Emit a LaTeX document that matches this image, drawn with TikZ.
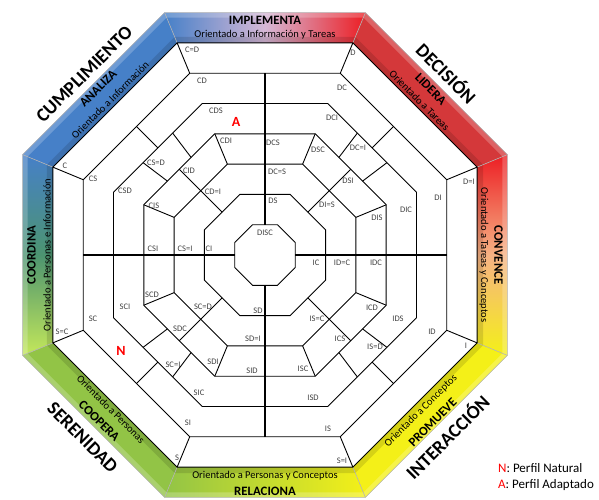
\documentclass[tikz,border=0pt]{standalone}
\usepackage{fontspec}
\setmainfont{Carlito}
\usetikzlibrary{calc}

\definecolor{discblue}{RGB}{70,128,200}
\definecolor{discred}{RGB}{212,56,58}
\definecolor{discbrightred}{RGB}{236,30,36}
\definecolor{discyellow}{RGB}{244,240,24}
\definecolor{discgreen}{RGB}{146,196,70}
\definecolor{disclime}{RGB}{196,232,90}
\definecolor{discteal}{RGB}{76,148,112}
\definecolor{disclilac}{RGB}{214,184,214}
\definecolor{discpeach}{RGB}{246,178,132}
\definecolor{taggray}{RGB}{64,64,64}

\begin{document}
\begin{tikzpicture}[x=1pt, y=1pt,
    ringline/.style={black, line width=0.9pt},
    mainaxis/.style={black, line width=1.9pt},
    bandedge/.style={black!30, line width=0.6pt},
    tagtext/.style={font=\fontsize{8.5}{9}\selectfont, text=taggray, inner sep=0pt},
    bandtitle/.style={font=\fontsize{12.8}{13}\selectfont\bfseries, inner sep=0pt},
    bandtext/.style={font=\fontsize{10.5}{11}\selectfont, inner sep=0pt},
    quadname/.style={font=\fontsize{19}{20}\selectfont\bfseries, inner sep=0pt, text height=12.2pt, text depth=0pt},
    profilemark/.style={font=\fontsize{14}{15}\selectfont\bfseries, text=red, inner sep=0pt},
    legendtext/.style={font=\fontsize{13}{14}\selectfont, inner sep=0pt, anchor=west}]
\useasboundingbox (-265,-244) rectangle (334,255);

% colour band
\def\ri{229.57}
\def\ro{262.37}
\shade[left color=discblue, right color=discbrightred, middle color=disclilac]
  (67.5:\ri) -- (112.5:\ri) -- (112.5:\ro) -- (67.5:\ro) -- cycle;
\fill[discred] (22.5:\ri) -- (67.5:\ri) -- (67.5:\ro) -- (22.5:\ro) -- cycle;
\shade[top color=discbrightred, bottom color=discyellow, middle color=discpeach]
  (-22.5:\ri) -- (22.5:\ri) -- (22.5:\ro) -- (-22.5:\ro) -- cycle;
\fill[discyellow] (-67.5:\ri) -- (-22.5:\ri) -- (-22.5:\ro) -- (-67.5:\ro) -- cycle;
\shade[left color=discgreen, right color=discyellow]
  (-112.5:\ri) -- (-67.5:\ri) -- (-67.5:\ro) -- (-112.5:\ro) -- cycle;
\fill[discgreen] (-157.5:\ri) -- (-112.5:\ri) -- (-112.5:\ro) -- (-157.5:\ro) -- cycle;
\shade[top color=discblue, bottom color=disclime, middle color=discteal]
  (157.5:\ri) -- (202.5:\ri) -- (202.5:\ro) -- (157.5:\ro) -- cycle;
\fill[discblue] (112.5:\ri) -- (157.5:\ri) -- (157.5:\ro) -- (112.5:\ro) -- cycle;
% bevel light and shade
\fill[white, opacity=0.22, even odd rule]
  (22.5:\ro) \foreach \a in {67.5,112.5,...,337.5}{ -- (\a:\ro)} -- cycle
  (22.5:257) \foreach \a in {67.5,112.5,...,337.5}{ -- (\a:257)} -- cycle;
\fill[black, opacity=0.12, even odd rule]
  (22.5:236) \foreach \a in {67.5,112.5,...,337.5}{ -- (\a:236)} -- cycle
  (22.5:\ri) \foreach \a in {67.5,112.5,...,337.5}{ -- (\a:\ri)} -- cycle;
\foreach \a in {22.5,67.5,...,337.5}
  \draw[bandedge] (\a:\ri) -- (\a:\ro);
\draw[bandedge] (22.5:\ro) \foreach \a in {67.5,112.5,...,337.5}{ -- (\a:\ro)} -- cycle;

\node[bandtitle] (implementa) at (90:235) {IMPLEMENTA};
\node[bandtext] (implementaori) at (90:220) {Orientado a Información y Tareas};
\node[bandtitle, rotate=-45] (lidera) at (45:234.5) {LIDERA};
\node[bandtext, rotate=-45] (lideraori) at (45:218.5) {Orientado a Tareas};
\node[bandtitle, rotate=-90] (convence) at (0:233.5) {CONVENCE};
\node[bandtext, rotate=-90] (convenceori) at (0:219) {Orientado a Tareas y Conceptos};
\node[bandtitle, rotate=45] (promueve) at (-45:237) {PROMUEVE};
\node[bandtext, rotate=45] (promueveori) at (-45:220.5) {Orientado a Conceptos};
\node[bandtitle] (relaciona) at (-90:236) {RELACIONA};
\node[bandtext] (relacionaori) at (-90:221) {Orientado a Personas y Conceptos};
\node[bandtitle, rotate=-45] (coopera) at (-135:234.5) {COOPERA};
\node[bandtext, rotate=-45] (cooperaori) at (-135:218) {Orientado a Personas};
\node[bandtitle, rotate=90] (coordina) at (180:233.5) {COORDINA};
\node[bandtext, rotate=90] (coordinaori) at (180:218) {Orientado a Personas e Información};
\node[bandtitle, rotate=45] (analiza) at (135:236) {ANALIZA};
\node[bandtext, rotate=45] (analizaori) at (135:219) {Orientado a Información};

\node[quadname, rotate=45] (cumplimiento) at (135:255.5) {CUMPLIMIENTO};
\node[quadname, rotate=-45] (decision) at (45:255.5) {DECISIÓN};
\node[quadname, rotate=45] (interaccion) at (-45:259) {INTERACCIÓN};
\node[quadname, rotate=-45] (serenidad) at (-135:258) {SERENIDAD};

% octagon rings
\foreach \k in {1,...,7}{
  \pgfmathsetmacro\rk{\k*32.796}
  \draw[ringline] (22.5:\rk) \foreach \a in {67.5,112.5,...,337.5}{ -- (\a:\rk)} -- cycle;
}

% dividers, one quadrant turned four times
\foreach \rot in {0,-90,-180,-270}{
  \begin{scope}[rotate=\rot]
    \foreach \a in {112.5,157.5}{
      \draw[ringline] (\a:229.57) -- (\a:196.78);
      \draw[ringline] (\a:131.18) -- (\a:98.39);
    }
    \draw[ringline] (135:60.6) -- (135:121.2);
    \draw[ringline] (135:151.5) -- (135:181.8);
    \draw[ringline] ($(112.5:163.98)!1/3!(157.5:163.98)$) -- ($(112.5:131.18)!1/3!(157.5:131.18)$);
    \draw[ringline] ($(112.5:163.98)!2/3!(157.5:163.98)$) -- ($(112.5:131.18)!2/3!(157.5:131.18)$);
    \draw[mainaxis] (90:30.3) -- (90:181.8);
  \end{scope}
}

% profile tags
\foreach \nm/\x/\y/\txt in {
    ceqd/-73/205/C=D, d/88/202/D, deqi/204/73/D=I, i/201/-91/I,
    seqi/77/-206/S=I, s/-88/-203/S, seqc/-203/-77/S=C, c/-200/89/C,
    cd/-63/174/CD, dc/77/167/DC, di/173/57/DI, id/167/-77/ID,
    is/63/-174/IS, si/-77/-168/SI, sc/-172/-64/SC, cs/-172/76/CS,
    cds/-49/144/CDS, cseqd/-109/92/CS=D, csd/-140/64/CSD,
    dci/67/137/DCI, dceqi/93/107/DC=I, dic/141/45/DIC,
    ids/133/-64/IDS, iseqd/110/-92/IS=D, isd/48/-143/ISD,
    sic/-66/-138/SIC, sceqi/-92/-110/SC=I, sci/-140/-52/SCI,
    cdi/-39/114/CDI, cid/-76/84/CID, cis/-111/49/CIS, csi/-112/6/CSI,
    dcs/8/112/DCS, dsc/53/105/DSC, dsi/83/74/DSI, dis/112/37/DIS,
    idc/111/-8/IDC, icd/107/-53/ICD, ics/75/-84/ICS, isc/38/-114/ISC,
    sid/-13/-116/SID, sdi/-52/-107/SDI, sdc/-85/-74/SDC, scd/-113/-40/SCD,
    cdeqi/-52/63/CD=I, cseqi/-80/6/CS=I, dceqs/12/83/DC=S, dieqs/62/50/DI=S,
    ideqc/77/-8/ID=C, iseqc/52/-64/IS=C, sdeqi/-12/-84/SD=I, sceqd/-62/-52/SC=D,
    ci/-56/6/CI, ds/8/54/DS, ic/51/-8/IC, sd/-7/-56/SD,
    disc/0/22/DISC}
  \node[tagtext] (\nm) at (\x,\y) {\txt};

\node[profilemark] (adaptado) at (-29,133) {A};
\node[profilemark] (natural) at (-144,-96) {N};

\node[legendtext] (leyendan) at (233,-213) {\textcolor{red}{N}: Perfil Natural};
\node[legendtext] (leyendaa) at (233,-230) {\textcolor{red}{A}: Perfil Adaptado};
\end{tikzpicture}
\end{document}
